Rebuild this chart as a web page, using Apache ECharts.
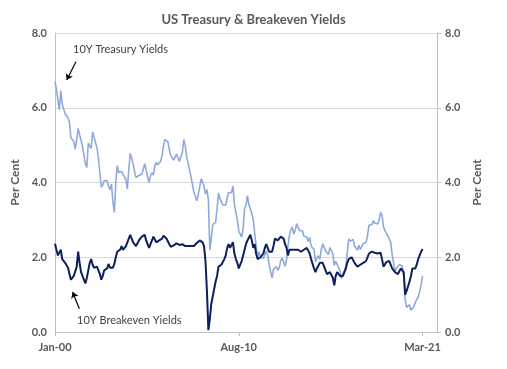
<!DOCTYPE html>
<html>
<head>
<meta charset="utf-8">
<script src="https://cdn.jsdelivr.net/npm/echarts@6/dist/echarts.min.js"></script>
<style>
html,body{margin:0;padding:0;background:#fff;}
#chart{width:507px;height:369px;}
</style>
</head>
<body>
<div id="chart"></div>
<script>
// Monthly data, Jan 2000 .. Mar 2021 (index 0 = Jan-00)
const startYear = 2000;
const treasury = [
6.70,6.50,6.20,5.95,6.45,6.10,6.05,5.83,5.80,5.74,5.60,5.20,
5.16,5.10,4.89,5.14,5.45,5.28,5.24,4.97,4.73,4.50,4.40,5.05,
5.04,4.91,5.35,5.21,5.16,4.93,4.65,4.26,3.87,3.94,4.05,4.03,
4.05,3.90,3.81,3.96,3.50,3.20,3.98,4.45,4.27,4.29,4.30,4.27,
4.15,4.08,3.83,4.35,4.78,4.73,4.50,4.28,4.13,4.10,4.19,4.23,
4.22,4.17,4.50,4.34,4.14,4.00,4.18,4.26,4.20,4.46,4.54,4.47,
4.42,4.57,4.72,4.99,5.15,5.11,5.09,4.88,4.72,4.73,4.60,4.56,
4.76,4.72,4.56,4.69,4.80,5.15,5.00,4.67,4.52,4.53,4.15,4.10,
3.74,3.74,3.51,3.68,3.88,4.10,4.01,3.89,3.69,3.81,3.53,2.20,
2.52,2.87,2.82,2.93,3.29,3.72,3.56,3.59,3.40,3.39,3.40,3.59,
3.73,3.69,3.73,3.90,3.42,3.20,3.01,2.70,2.65,2.54,2.76,3.29,
3.39,3.65,3.41,3.46,3.17,3.00,3.00,2.30,1.98,2.15,2.01,1.98,
1.97,1.97,2.17,2.05,1.80,1.62,1.45,1.68,1.72,1.75,1.65,1.72,
1.91,1.98,1.96,1.76,1.93,2.30,2.58,2.74,2.81,2.62,2.72,2.90,
2.86,2.71,2.72,2.71,2.56,2.60,2.54,2.42,2.53,2.30,2.33,2.21,
1.88,1.98,2.04,1.94,2.20,2.36,2.32,2.17,2.17,2.07,2.26,2.24,
2.09,1.78,1.89,1.81,1.81,1.64,1.42,1.56,1.63,1.76,2.14,2.49,
2.43,2.42,2.48,2.30,2.30,2.19,2.32,2.21,2.20,2.36,2.35,2.40,
2.58,2.86,2.84,2.87,2.98,2.91,2.89,2.89,3.00,3.20,3.12,2.83,
2.71,2.68,2.57,2.53,2.40,2.07,2.06,1.63,1.70,1.71,1.81,1.86,
1.76,1.50,0.87,0.66,0.67,0.73,0.58,0.60,0.68,0.79,0.87,0.93,
1.08,1.26,1.50
];
const breakeven = [
2.36,2.20,2.05,2.00,2.20,1.95,1.90,1.85,1.80,1.72,1.55,1.40,
1.45,1.50,1.52,1.75,2.15,1.85,1.60,1.55,1.40,1.30,1.45,1.65,
1.85,1.95,1.80,1.72,1.70,1.75,1.65,1.55,1.40,1.50,1.65,1.70,
1.70,1.82,1.72,1.68,1.72,1.82,2.00,2.15,2.20,2.20,2.30,2.20,
2.25,2.30,2.40,2.50,2.60,2.50,2.40,2.35,2.30,2.30,2.45,2.50,
2.55,2.60,2.60,2.45,2.35,2.25,2.35,2.45,2.55,2.50,2.40,2.35,
2.45,2.50,2.50,2.58,2.60,2.50,2.45,2.35,2.28,2.30,2.32,2.35,
2.37,2.35,2.33,2.38,2.35,2.32,2.30,2.30,2.30,2.32,2.30,2.33,
2.30,2.35,2.38,2.40,2.45,2.50,2.40,2.30,1.90,1.10,0.05,0.35,
0.75,0.95,1.15,1.35,1.50,1.75,1.70,1.80,1.75,1.95,2.05,2.25,
2.35,2.25,2.30,2.40,2.10,1.95,1.85,1.70,1.65,1.90,2.05,2.20,
2.35,2.45,2.50,2.60,2.45,2.25,2.35,2.10,1.95,2.00,2.00,2.00,
2.10,2.25,2.35,2.30,2.15,2.10,2.15,2.30,2.50,2.55,2.45,2.45,
2.55,2.55,2.50,2.35,2.25,2.05,2.20,2.25,2.20,2.20,2.20,2.20,
2.20,2.20,2.15,2.20,2.20,2.25,2.25,2.20,2.10,1.95,1.90,1.70,
1.60,1.70,1.75,1.85,1.85,1.85,1.75,1.65,1.55,1.55,1.60,1.55,
1.45,1.25,1.50,1.60,1.60,1.50,1.45,1.50,1.55,1.70,1.85,1.95,
2.00,2.00,1.95,1.85,1.80,1.75,1.75,1.80,1.85,1.85,1.87,1.90,
2.00,2.10,2.08,2.15,2.15,2.12,2.10,2.10,2.12,2.12,1.95,1.75,
1.80,1.87,1.90,1.90,1.85,1.70,1.75,1.60,1.55,1.55,1.60,1.70,
1.70,1.60,1.00,1.10,1.15,1.35,1.50,1.70,1.65,1.70,1.80,1.95,
2.05,2.15,2.22
];
const tickLabels = ['Jan-00','Aug-10','Mar-21'];
const tickMonths = [0,127,254];

const txt = '#595959';
const font = 'Lato';
const chart = echarts.init(document.getElementById('chart'), null, {renderer:'canvas'});
const toPairs = arr => arr.map((v,i)=>[i,v]);

const yAxisBase = {
  type:'value', min:0, max:8, interval:2,
  name:'Per Cent', nameLocation:'middle', nameRotate:90, nameGap:31,
  nameTextStyle:{color:txt, fontFamily:font, fontWeight:'bold', fontSize:12},
  axisLabel:{color:txt, fontFamily:font, fontWeight:'bold', fontSize:11, formatter:v=>v.toFixed(1)},
  axisLine:{show:true, lineStyle:{color:'#bfbfbf', width:1}}
};

chart.setOption({
  animation:false,
  backgroundColor:'#ffffff',
  title:{text:'US Treasury & Breakeven Yields', left:'center', top:8,
    textStyle:{color:txt, fontFamily:font, fontWeight:'bold', fontSize:13}},
  grid:{left:55, right:70, top:33, bottom:37},
  xAxis:{
    type:'value', min:0, max:264,
    splitLine:{show:false},
    axisLine:{show:true, onZero:false, lineStyle:{color:'#bfbfbf'}},
    axisTick:{show:true, length:4, customValues:tickMonths, lineStyle:{color:'#bfbfbf'}},
    axisLabel:{customValues:tickMonths, color:txt, fontFamily:font, fontWeight:'bold', fontSize:11, margin:10,
      formatter:v=>{const k=tickMonths.indexOf(Math.round(v)); return k>=0?tickLabels[k]:'';}}
  },
  yAxis:[
    Object.assign({}, yAxisBase, {position:'left', axisTick:{show:false},
      splitLine:{show:true, lineStyle:{color:'#d9d9d9', width:1}}}),
    Object.assign({}, yAxisBase, {position:'right', axisTick:{show:true, length:4, lineStyle:{color:'#bfbfbf'}},
      splitLine:{show:false}})
  ],
  series:[
    {name:'10Y Treasury Yields', type:'line', data:toPairs(treasury), showSymbol:false,
      lineStyle:{color:'#8eaadb', width:1.6}, itemStyle:{color:'#8eaadb'},
      markLine:{silent:true, symbol:['none','arrow'], symbolSize:6,
        lineStyle:{color:'#000', width:1.2, type:'solid'}, label:{show:false},
        data:[[{coord:[14.5,7.23]},{coord:[8.1,6.74]}]]}},
    {name:'10Y Breakeven Yields', type:'line', data:toPairs(breakeven), showSymbol:false,
      lineStyle:{color:'#0d1f5c', width:2}, itemStyle:{color:'#0d1f5c'},
      markLine:{silent:true, symbol:['none','arrow'], symbolSize:6,
        lineStyle:{color:'#000', width:1.2, type:'solid'}, label:{show:false},
        data:[[{coord:[16.8,0.62]},{coord:[12.2,1.07]}]]}}
  ],
  graphic:[
    {type:'text', left:73, top:44, style:{text:'10Y Treasury Yields', fill:'#404040', font:'11px Lato'}},
    {type:'text', left:77, top:315, style:{text:'10Y Breakeven Yields', fill:'#404040', font:'11px Lato'}}
  ]
});
</script>
</body>
</html>
